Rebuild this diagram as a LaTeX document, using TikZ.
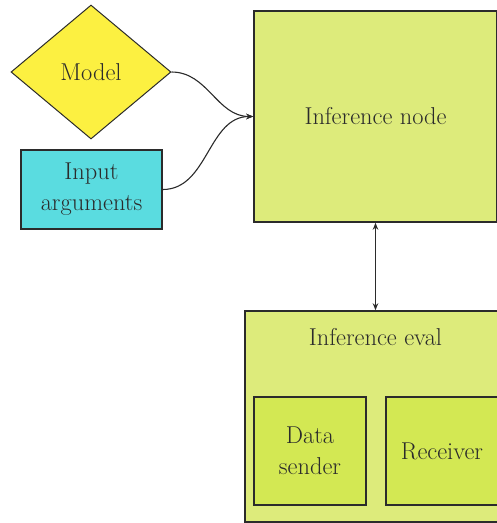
\documentclass[tikz,border=0pt]{standalone}
\usetikzlibrary{shapes.geometric,arrows.meta}
\definecolor{modelyellow}{HTML}{FCF041}
\definecolor{inputcyan}{HTML}{5ADCE0}
\definecolor{outerlime}{HTML}{DDEB7B}
\definecolor{innerlime}{HTML}{D3E853}
\definecolor{ink}{HTML}{2B2B2B}
\begin{document}
\begin{tikzpicture}[x=1pt,y=1pt,
  every node/.style={font=\fontsize{24.4}{31}\selectfont, text=ink, align=center, inner sep=0pt},
  boxstyle/.style={draw=ink, line width=1.5pt, rectangle},
  conn/.style={draw=ink, line width=1.1pt},
  tip/.style={-{Stealth[length=7pt,width=5.5pt]}}]
  \useasboundingbox (0,0) rectangle (497,-523);

  % inputs
  \node[diamond, draw=ink, line width=1pt, fill=modelyellow,
        minimum width=160pt, minimum height=134pt] (model) at (91,-72) {Model};
  \node[boxstyle, fill=inputcyan, minimum width=141pt, minimum height=79pt]
        (input) at (91.5,-189.5) {Input\\arguments};

  % inference node
  \node[boxstyle, fill=outerlime, minimum width=243pt, minimum height=211pt]
        (infer) at (375.5,-116.5) {Inference node};

  % evaluation block with its two parts
  \node[boxstyle, fill=outerlime, minimum width=261pt, minimum height=211pt]
        (eval) at (375.5,-416.5) {};
  \node (evaltitle) at (375.5,-337) {Inference eval};
  \node[boxstyle, fill=innerlime, minimum width=112pt, minimum height=108pt]
        (sender) at (310,-451) {Data\\sender};
  \node[boxstyle, fill=innerlime, minimum width=112pt, minimum height=108pt]
        (receiver) at (442,-451) {Receiver};

  % connectors
  \draw[conn, tip] (model.east) to[out=0, in=180] (infer.west);
  \draw[conn, tip] (input.east) to[out=0, in=180] (infer.west);
  \draw[conn, {Stealth[length=7pt,width=5.5pt]}-{Stealth[length=7pt,width=5.5pt]}]
        (infer.south) -- (eval.north);
\end{tikzpicture}
\end{document}
